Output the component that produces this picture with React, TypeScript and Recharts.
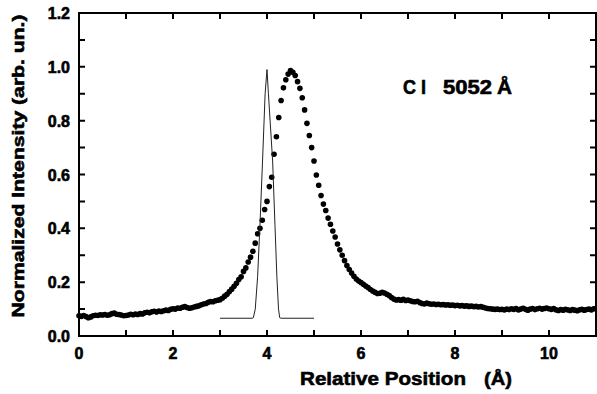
import { ScatterChart, Scatter, XAxis, YAxis, Label } from 'recharts'

// measured C I 5052 line profile (dots)
const positions = [
  0, 0.05, 0.1, 0.15, 0.2, 0.25, 0.3, 0.35, 0.4, 0.45, 0.5, 0.55, 0.6, 0.65, 0.7, 0.75, 0.8, 0.85, 0.9, 0.95,
  1, 1.05, 1.1, 1.15, 1.2, 1.25, 1.3, 1.35, 1.4, 1.45, 1.5, 1.55, 1.6, 1.65, 1.7, 1.75, 1.8, 1.85, 1.9, 1.95,
  2, 2.05, 2.1, 2.15, 2.2, 2.25, 2.3, 2.35, 2.4, 2.45, 2.5, 2.55, 2.6, 2.65, 2.7, 2.75, 2.8, 2.85, 2.9, 2.95,
  3, 3.05, 3.1, 3.15, 3.2, 3.25, 3.3, 3.35, 3.4, 3.45, 3.5, 3.55, 3.6, 3.65, 3.7, 3.75, 3.8, 3.85, 3.9, 3.95,
  4, 4.05, 4.1, 4.15, 4.2, 4.25, 4.3, 4.35, 4.4, 4.45, 4.5, 4.55, 4.6, 4.65, 4.7, 4.75, 4.8, 4.85, 4.9, 4.95,
  5, 5.05, 5.1, 5.15, 5.2, 5.25, 5.3, 5.35, 5.4, 5.45, 5.5, 5.55, 5.6, 5.65, 5.7, 5.75, 5.8, 5.85, 5.9, 5.95,
  6, 6.05, 6.1, 6.15, 6.2, 6.25, 6.3, 6.35, 6.4, 6.45, 6.5, 6.55, 6.6, 6.65, 6.7, 6.75, 6.8, 6.85, 6.9, 6.95,
  7, 7.05, 7.1, 7.15, 7.2, 7.25, 7.3, 7.35, 7.4, 7.45, 7.5, 7.55, 7.6, 7.65, 7.7, 7.75, 7.8, 7.85, 7.9, 7.95,
  8, 8.05, 8.1, 8.15, 8.2, 8.25, 8.3, 8.35, 8.4, 8.45, 8.5, 8.55, 8.6, 8.65, 8.7, 8.75, 8.8, 8.85, 8.9, 8.95,
  9, 9.05, 9.1, 9.15, 9.2, 9.25, 9.3, 9.35, 9.4, 9.45, 9.5, 9.55, 9.6, 9.65, 9.7, 9.75, 9.8, 9.85, 9.9, 9.95,
  10, 10.05, 10.1, 10.15, 10.2, 10.25, 10.3, 10.35, 10.4, 10.45, 10.5, 10.55, 10.6, 10.65, 10.7, 10.75, 10.8, 10.85, 10.9, 10.95,
  11,
]

const intensity = [
  0.075, 0.073, 0.076, 0.072, 0.068, 0.071, 0.075, 0.077, 0.076, 0.079, 0.078, 0.080, 0.077, 0.079, 0.083, 0.085, 0.081, 0.080, 0.078, 0.075,
  0.076, 0.078, 0.081, 0.079, 0.082, 0.080, 0.083, 0.082, 0.086, 0.088, 0.086, 0.090, 0.092, 0.089, 0.093, 0.091, 0.094, 0.096, 0.095, 0.099,
  0.101, 0.100, 0.104, 0.103, 0.107, 0.109, 0.106, 0.103, 0.105, 0.108, 0.110, 0.112, 0.116, 0.119, 0.121, 0.125, 0.128, 0.127, 0.131, 0.133,
  0.135, 0.140, 0.148, 0.155, 0.165, 0.174, 0.185, 0.196, 0.210, 0.220, 0.240, 0.253, 0.275, 0.293, 0.315, 0.345, 0.380, 0.400, 0.430, 0.470,
  0.500, 0.555, 0.590, 0.675, 0.740, 0.812, 0.875, 0.922, 0.952, 0.973, 0.986, 0.980, 0.968, 0.945, 0.920, 0.885, 0.840, 0.790, 0.745, 0.700,
  0.650, 0.598, 0.560, 0.522, 0.490, 0.466, 0.438, 0.415, 0.390, 0.368, 0.342, 0.320, 0.300, 0.280, 0.262, 0.247, 0.234, 0.222, 0.212, 0.204,
  0.199, 0.192, 0.186, 0.180, 0.173, 0.167, 0.162, 0.158, 0.159, 0.162, 0.160, 0.155, 0.150, 0.143, 0.137, 0.134, 0.135, 0.133, 0.136, 0.132,
  0.134, 0.131, 0.128, 0.127, 0.129, 0.124, 0.121, 0.119, 0.122, 0.120, 0.118, 0.119, 0.117, 0.118, 0.116, 0.117, 0.115, 0.116, 0.114, 0.115,
  0.113, 0.114, 0.112, 0.113, 0.111, 0.112, 0.110, 0.111, 0.109, 0.110, 0.108, 0.109, 0.107, 0.104, 0.102, 0.101, 0.100, 0.099, 0.100, 0.098,
  0.099, 0.097, 0.100, 0.098, 0.101, 0.099, 0.102, 0.097, 0.100, 0.103, 0.099, 0.096, 0.100, 0.102, 0.098, 0.101, 0.103, 0.100, 0.102, 0.104,
  0.101, 0.099, 0.102, 0.097, 0.095, 0.098, 0.096, 0.099, 0.097, 0.095, 0.098, 0.096, 0.094, 0.097, 0.099, 0.096, 0.098, 0.100, 0.097, 0.101,
  0.102,
]

// instrument profile (thin line)
const instrumentX = [3.0, 3.68, 3.71, 3.75, 3.8, 3.85, 3.905, 3.96, 4.0, 4.03, 4.12, 4.17, 4.21, 4.245, 4.27, 4.3, 5.0]
const instrumentY = [0.066, 0.066, 0.068, 0.1, 0.22, 0.41, 0.65, 0.9, 0.99, 0.9, 0.65, 0.41, 0.22, 0.1, 0.068, 0.066, 0.066]

const xTicks = [0, 1, 2, 3, 4, 5, 6, 7, 8, 9, 10]
const yTicks = [0, 0.1, 0.2, 0.3, 0.4, 0.5, 0.6, 0.7, 0.8, 0.9, 1.0, 1.1, 1.2]

const measured = positions.map((x, i) => ({ x, y: intensity[i] }))
const instrument = instrumentX.map((x, i) => ({ x, y: instrumentY[i] }))

const W = 597
const H = 394
// plot box
const LEFT = 79
const RIGHT = 596
const TOP = 13
const BOTTOM = 336
const X_MAX = 11
const Y_MAX = 1.2
const TICK = 6

const FONT = '"Liberation Sans", Arial, Helvetica, sans-serif'
// heavier lettering, like the original's black sans
const heavy = { fontFamily: FONT, fontWeight: 'bold' as const, fill: '#000', stroke: '#000', strokeWidth: 0.6 }

const xPx = (v: number) => LEFT + (v / X_MAX) * (RIGHT - LEFT)
const yPx = (v: number) => BOTTOM - (v / Y_MAX) * (BOTTOM - TOP)

const BottomLabel = ({ x, y, payload }: any) =>
  payload.value % 2 === 0 ? (
    <text x={x} y={y + 23} textAnchor="middle" fontSize={16} {...heavy}>
      {payload.value}
    </text>
  ) : (
    <g />
  )

const LeftLabel = ({ x, y, payload }: any) =>
  Math.round(payload.value * 10) % 2 === 0 ? (
    <text x={x - 9} y={y + 6} textAnchor="end" fontSize={16} {...heavy}>
      {payload.value.toFixed(1)}
    </text>
  ) : (
    <g />
  )

const Dot = ({ cx, cy }: any) => <circle cx={cx} cy={cy} r={2.8} fill="#000" />

const YTitle = () => (
  <text
    x={24}
    y={166}
    transform="rotate(-90, 24, 166)"
    textAnchor="middle"
    fontSize={17}
    textLength={303}
    lengthAdjust="spacingAndGlyphs"
    {...heavy}
  >
    Normalized Intensity (arb. un.)
  </text>
)

const XTitle = () => (
  <g fontSize={19} {...heavy}>
    <text x={300} y={385} textLength={166} lengthAdjust="spacingAndGlyphs">Relative Position</text>
    <text x={484} y={385} textLength={28} lengthAdjust="spacingAndGlyphs">(Å)</text>
  </g>
)

// frame with inward ticks on all four sides, drawn over the chart
const Frame = () => (
  <svg width={W} height={H} style={{ position: 'absolute', left: 0, top: 0, pointerEvents: 'none' }}>
    <path
      d={`M${LEFT},${TOP} H${RIGHT} V${BOTTOM} H${LEFT} Z`}
      stroke="#000"
      strokeWidth={2}
      fill="none"
    />
    {xTicks.map((t) => (
      <path
        key={`x${t}`}
        d={`M${xPx(t)},${BOTTOM} v${-TICK} M${xPx(t)},${TOP} v${TICK}`}
        stroke="#000"
        strokeWidth={2}
        fill="none"
      />
    ))}
    {yTicks.map((t) => (
      <path
        key={`y${t}`}
        d={`M${LEFT},${yPx(t)} h${TICK} M${RIGHT},${yPx(t)} h${-TICK}`}
        stroke="#000"
        strokeWidth={2}
        fill="none"
      />
    ))}
    <g fontSize={20} {...heavy}>
      <text x={403} y={94} textLength={23} lengthAdjust="spacingAndGlyphs">C I</text>
      <text x={443} y={94} textLength={49} lengthAdjust="spacingAndGlyphs">5052</text>
      <text x={497} y={94} textLength={15} lengthAdjust="spacingAndGlyphs">Å</text>
    </g>
  </svg>
)

export default function App() {
  return (
    <div style={{ position: 'relative', width: W, height: H }}>
      <style>{'body{margin:0;background:#fff}'}</style>
      <ScatterChart width={W} height={H} margin={{ top: TOP, right: W - RIGHT, bottom: 0, left: 0 }}>
        <XAxis
          dataKey="x"
          type="number"
          domain={[0, X_MAX]}
          ticks={xTicks}
          interval={0}
          height={H - BOTTOM}
          tickSize={0}
          tickMargin={0}
          tickLine={false}
          tick={<BottomLabel />}
          axisLine={{ stroke: '#000', strokeWidth: 1.5 }}
        >
          <Label content={<XTitle />} />
        </XAxis>
        <YAxis
          dataKey="y"
          type="number"
          domain={[0, Y_MAX]}
          ticks={yTicks}
          interval={0}
          width={LEFT}
          tickSize={0}
          tickMargin={0}
          tickLine={false}
          tick={<LeftLabel />}
          axisLine={{ stroke: '#000', strokeWidth: 1.5 }}
        >
          <Label content={<YTitle />} />
        </YAxis>
        <Scatter data={measured} shape={<Dot />} isAnimationActive={false} />
        <Scatter
          data={instrument}
          line={{ stroke: '#222', strokeWidth: 1 }}
          shape={() => <g />}
          isAnimationActive={false}
        />
      </ScatterChart>
      <Frame />
    </div>
  )
}
